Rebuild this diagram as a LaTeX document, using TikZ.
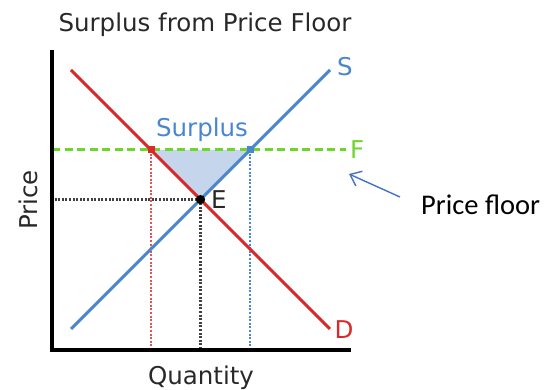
\documentclass[tikz,border=0pt]{standalone}
\usepackage{fontspec}
\setmainfont{DejaVu Sans}
\newfontfamily\calibrifont{Carlito}
\usetikzlibrary{arrows.meta}
\definecolor{demred}{RGB}{220,40,40}
\definecolor{supblue}{RGB}{74,134,208}
\definecolor{floorgreen}{RGB}{110,214,40}
\definecolor{surpfill}{RGB}{197,213,236}
\definecolor{notearrow}{RGB}{68,114,196}
\definecolor{titlegray}{RGB}{40,40,40}

\begin{document}
\begin{tikzpicture}[x=1pt,y=-1pt,font=\fontsize{24.5}{26}\selectfont,
  lbl/.style={inner sep=0pt,text=titlegray},
  guide/.style={line width=2.8pt,dash pattern=on 2pt off 1.6pt},
  pt/.style={minimum size=7pt,inner sep=0pt,fill=#1}]
\useasboundingbox (0,0) rectangle (558,390);
\node[lbl] (title) at (205,25) {Surplus from Price Floor};
\node[lbl,rotate=90] (ylab) at (28,200) {Price};
\node[lbl] (xlab) at (201,378) {Quantity};
% curves and floor
\coordinate (dtop) at (71,70); \coordinate (dbot) at (330,329);
\coordinate (sbot) at (71,329); \coordinate (stop) at (330,70);
\coordinate (fl) at (52,150); \coordinate (fr) at (346,150);
\node[pt=demred] (qd) at (151,150) {};
\node[pt=supblue] (qs) at (250,150) {};
\node[circle,pt=black,minimum size=9pt] (eq) at (200.5,199.5) {};
\fill[surpfill] (qd.center) -- (qs.center) -- (eq.center) -- cycle;
\coordinate (ox) at (51.5,350.5);
\draw[guide,demred!80] (qd.center) -- (qd.center |- ox);
\draw[guide,supblue] (qs.center) -- (qs.center |- ox);
\draw[guide,black!75] (eq.center) -- (eq.center |- ox);
\draw[guide,black!75] (eq.center) -- (eq.center -| ox);
\draw[floorgreen,line width=3pt,dash pattern=on 8pt off 4.5pt] (fl) -- (fr);
\draw[demred,line width=3pt] (dtop) -- (dbot);
\draw[supblue,line width=3pt] (sbot) -- (stop);
\node[pt=demred] at (qd) {};
\node[pt=supblue] at (qs) {};
\node[circle,pt=black,minimum size=9pt] at (eq) {};
\draw[line width=4pt] (51.5,50) -- (ox) -- (351,350.5);
\node[lbl,text=supblue] (surp) at (202,130) {Surplus};
\node[lbl,text=supblue] (slab) at (345,67) {S};
\node[lbl,text=demred] (dlab) at (344,330) {D};
\node[lbl,anchor=west] (elab) at (211,200) {E};
\node[lbl,text=floorgreen,anchor=west] (flab) at (350,150) {F};
% annotation
\node[anchor=west,inner sep=0pt,font=\calibrifont\fontsize{28.5}{30}\selectfont] (note) at (421,205) {Price floor};
\coordinate (tail) at (400,197);
\draw[notearrow,line width=1.4pt,-{Straight Barb[length=10pt,width=16pt]}] (tail) -- (349,174);
\end{tikzpicture}
\end{document}
